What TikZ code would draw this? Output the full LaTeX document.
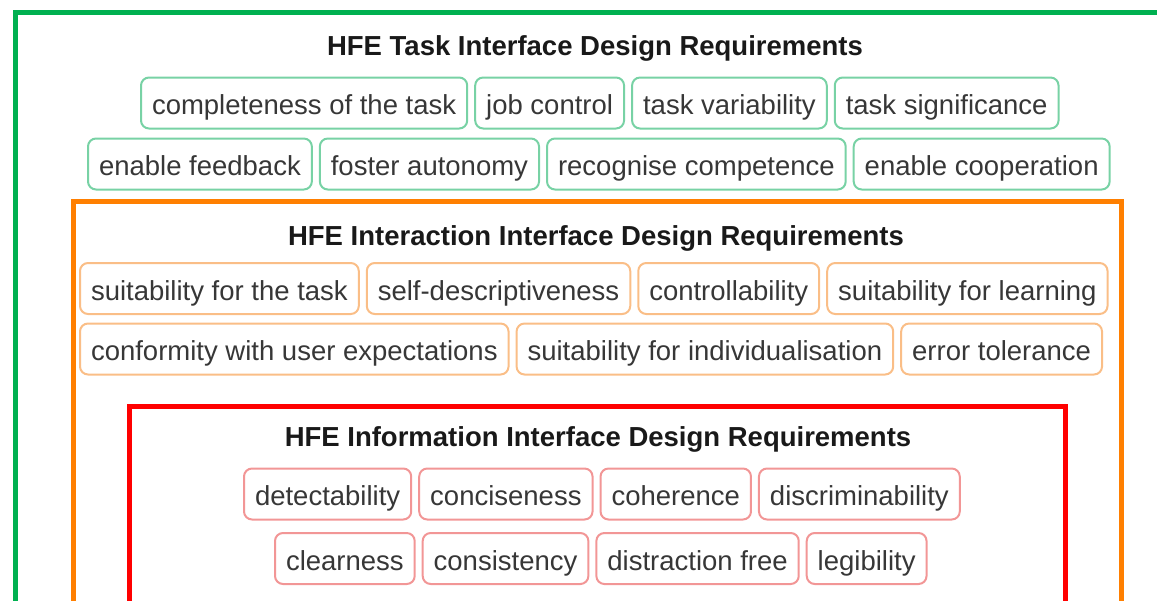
\documentclass[tikz,border=0pt]{standalone}
\usepackage{fontspec}
\setmainfont{Liberation Sans}
\usepackage{tikz}
\usetikzlibrary{positioning}
\usepackage[dvipsnames]{xcolor}

\definecolor{taskframe}{RGB}{0,176,80}
\definecolor{taskline}{RGB}{120,210,165}
\definecolor{interframe}{RGB}{255,127,0}
\definecolor{interline}{RGB}{250,190,135}
\definecolor{infoframe}{RGB}{255,0,0}
\definecolor{infoline}{RGB}{242,150,150}
\definecolor{reqtext}{RGB}{55,55,55}

\tikzset{
    req/.style={draw, rounded corners=4pt, line width=1pt, fill=white, text=reqtext,
        font=\fontsize{13.75}{16}\selectfont, inner xsep=5.5pt, inner ysep=0pt,
        text height=11.5pt, text depth=0pt, minimum height=25.5pt},
    taskreq/.style={req, draw=taskline},
    interreq/.style={req, draw=interline},
    inforeq/.style={req, draw=infoline},
    frametitle/.style={font=\fontsize{13.75}{16}\selectfont\bfseries, text=black!90},
    frame/.style={line width=2.5pt}
}

\begin{document}
\begin{tikzpicture}[x=0.5pt, y=-0.5pt]
    \useasboundingbox (0,0) rectangle (1157,600);
    \clip (0,0) rectangle (1157,600);

    % Draw the three nested frames
    \draw[frame, taskframe] (15.5,12) rectangle (1200,650);
    \draw[frame, interframe] (73,201) rectangle (1121,650);
    \draw[frame, infoframe] (129.5,406) rectangle (1065,650);

    % Task interface requirements
    \node[frametitle] (TaskTitle) at (595,48) {HFE Task Interface Design Requirements};
    \node[taskreq, anchor=west] (T1) at (140,103) {completeness of the task};
    \node[taskreq, right=3pt of T1] (T2) {job control};
    \node[taskreq, right=3pt of T2] (T3) {task variability};
    \node[taskreq, right=3pt of T3] (T4) {task significance};
    \node[taskreq, anchor=west] (T5) at (87,164) {enable feedback};
    \node[taskreq, right=3pt of T5] (T6) {foster autonomy};
    \node[taskreq, right=3pt of T6] (T7) {recognise competence};
    \node[taskreq, right=3pt of T7] (T8) {enable cooperation};

    % Interaction interface requirements
    \node[frametitle] (InterTitle) at (596,238) {HFE Interaction Interface Design Requirements};
    \node[interreq, anchor=west] (A1) at (79,288.5) {suitability for the task};
    \node[interreq, right=3pt of A1] (A2) {self-descriptiveness};
    \node[interreq, right=3pt of A2] (A3) {controllability};
    \node[interreq, right=3pt of A3] (A4) {suitability for learning};
    \node[interreq, anchor=west] (A5) at (79,349) {conformity with user expectations};
    \node[interreq, right=3pt of A5] (A6) {suitability for individualisation};
    \node[interreq, right=3pt of A6] (A7) {error tolerance};

    % Information interface requirements
    \node[frametitle] (InfoTitle) at (598,439) {HFE Information Interface Design Requirements};
    \node[inforeq, anchor=west] (B1) at (243,494) {detectability};
    \node[inforeq, right=3pt of B1] (B2) {conciseness};
    \node[inforeq, right=3pt of B2] (B3) {coherence};
    \node[inforeq, right=3pt of B3] (B4) {discriminability};
    \node[inforeq, anchor=west] (B5) at (274,558.5) {clearness};
    \node[inforeq, right=3pt of B5] (B6) {consistency};
    \node[inforeq, right=3pt of B6] (B7) {distraction free};
    \node[inforeq, right=3pt of B7] (B8) {legibility};
\end{tikzpicture}
\end{document}
